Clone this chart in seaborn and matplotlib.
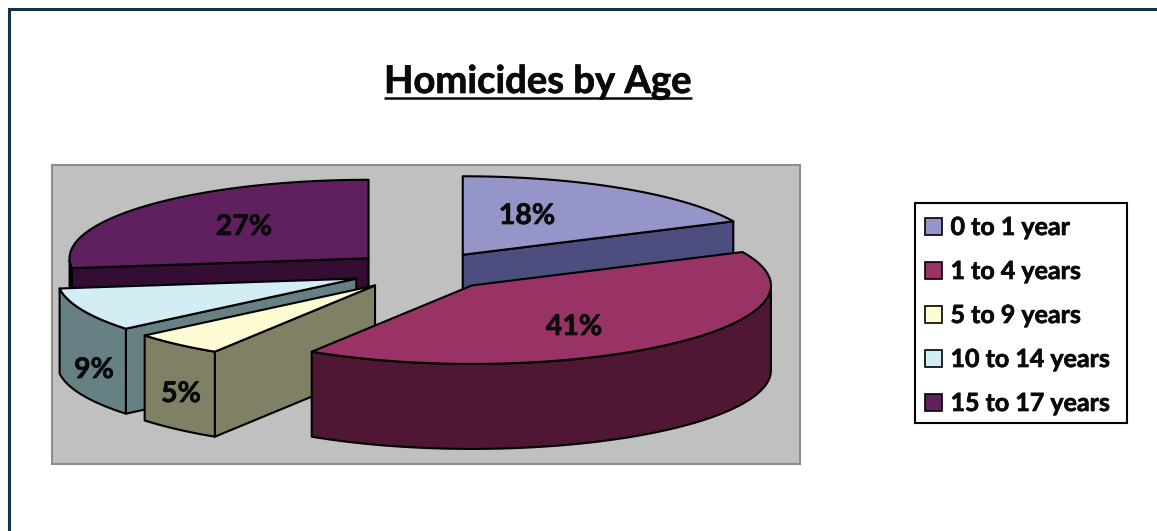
import numpy as np
import matplotlib
matplotlib.use("Agg")
import matplotlib.pyplot as plt
import matplotlib.patheffects as pe
from matplotlib.patches import Patch, Rectangle
import seaborn as sns

# ── Data ───────────────────────────────────────────────────────────────────
AGES    = ["0 to 1 year", "1 to 4 years", "5 to 9 years", "10 to 14 years", "15 to 17 years"]
PERCENT = [18, 41, 5, 9, 27]

TITLE = "Homicides by Age"

# ── Style ──────────────────────────────────────────────────────────────────
TOP_COLORS  = ["#9595C9", "#993366", "#FFFBD3", "#D3EDF5", "#602060"]
WALL_COLORS = ["#4D4D80", "#4F1733", "#808064", "#668083", "#330D33"]
FONT = "Lato"

sns.set_theme(style="white")
plt.rcParams["font.family"] = [FONT, "DejaVu Sans"]

top_pal  = sns.color_palette(TOP_COLORS)
wall_pal = sns.color_palette(WALL_COLORS)

# Lato bold is a bit lighter than the original face
HEAVY = [pe.withStroke(linewidth=0.5, foreground="#0A0A0A")]

# ── Pie geometry (pixels of the 1157x531 canvas) ───────────────────────────
CX, CY  = 423.5, 271.0
RX, RY  = 299.0, 78.5
DEPTH   = 85.0
EXPLODE = 0.245
LW      = 1.5

# painter's order, back to front
DRAW_ORDER = [4, 0, 3, 2, 1]
LABEL_XY = {0: (527, 216), 1: (574, 327), 2: (181, 394), 3: (94, 370), 4: (244, 227)}


def project(theta, frac, ox=0.0, oy=0.0):
    """theta clockwise from the top of the pie, in degrees."""
    t = np.radians(theta)
    return ox + frac * RX * np.sin(t), oy - frac * RY * np.cos(t)


fig = plt.figure(figsize=(11.57, 5.31), dpi=100, facecolor="white")
ax = fig.add_axes([0, 0, 1, 1])
ax.set_xlim(0, 1157)
ax.set_ylim(531, 0)
ax.axis("off")

# outer frame, only left and top are inside the picture
ax.plot([9, 9, 1157], [531, 9, 9], color="#12324A", lw=2.2, solid_joinstyle="miter")

# plot area
ax.add_patch(Rectangle((52, 164.5), 748, 299, fc="#C0C0C0", ec="#8C8C8C", lw=1.5))

edges = np.concatenate([[0], np.cumsum(PERCENT)]) * 3.6

for i in DRAW_ORDER:
    start, end = edges[i], edges[i + 1]
    mid = (start + end) / 2
    ox, oy = project(mid, EXPLODE, CX, CY)
    arc = np.linspace(start, end, 80)
    ax_x, ax_y = project(arc, 1.0, ox, oy)

    kw = dict(edgecolor="black", lw=LW, joinstyle="round")

    # radial walls facing the viewer
    for th, visible in [(start, np.sin(np.radians(start)) < 0),
                        (end, np.sin(np.radians(end)) > 0)]:
        if visible:
            rx, ry = project(th, 1.0, ox, oy)
            ax.fill([ox, rx, rx, ox], [oy, ry, ry + DEPTH, oy + DEPTH],
                    facecolor=wall_pal[i], **kw)

    # rim wall, front half only
    front = (arc > 90) & (arc < 270)
    if front.any():
        fx, fy = ax_x[front], ax_y[front]
        ax.fill(np.r_[fx, fx[::-1]], np.r_[fy, fy[::-1] + DEPTH],
                facecolor=wall_pal[i], **kw)

    # top face
    ax.fill(np.r_[ox, ax_x], np.r_[oy, ax_y], facecolor=top_pal[i], **kw)

    lx, ly = LABEL_XY[i]
    ax.text(lx, ly, f"{PERCENT[i]}%", ha="center", va="center",
            fontsize=20.5, fontweight="bold", color="#0A0A0A", path_effects=HEAVY)

# title with underline
ax.text(538, 93, TITLE, ha="center", va="baseline", fontsize=27.5,
        fontweight="bold", color="#0A0A0A", path_effects=HEAVY)
ax.plot([384, 692], [98, 98], color="#0A0A0A", lw=1.8, solid_capstyle="butt")

# legend, box drawn apart so the rows can sit as in the original
ax.add_patch(Rectangle((914.5, 203), 212.5, 220, fc="white", ec="black", lw=1.5))
handles = [Patch(facecolor=c, edgecolor="black", lw=1.2, label=a)
           for c, a in zip(top_pal, AGES)]
leg = ax.legend(handles=handles, loc="upper left",
                bbox_to_anchor=(925, 216), bbox_transform=ax.transData,
                prop=dict(family=FONT, weight="bold", size=18),
                frameon=False, borderpad=0, labelspacing=0.84, handlelength=0.66,
                handleheight=0.66, handletextpad=0.36, borderaxespad=0)
for t in leg.get_texts():
    t.set_color("#0A0A0A")
    t.set_path_effects(HEAVY)

fig.savefig("out.png", dpi=100, facecolor="white")
